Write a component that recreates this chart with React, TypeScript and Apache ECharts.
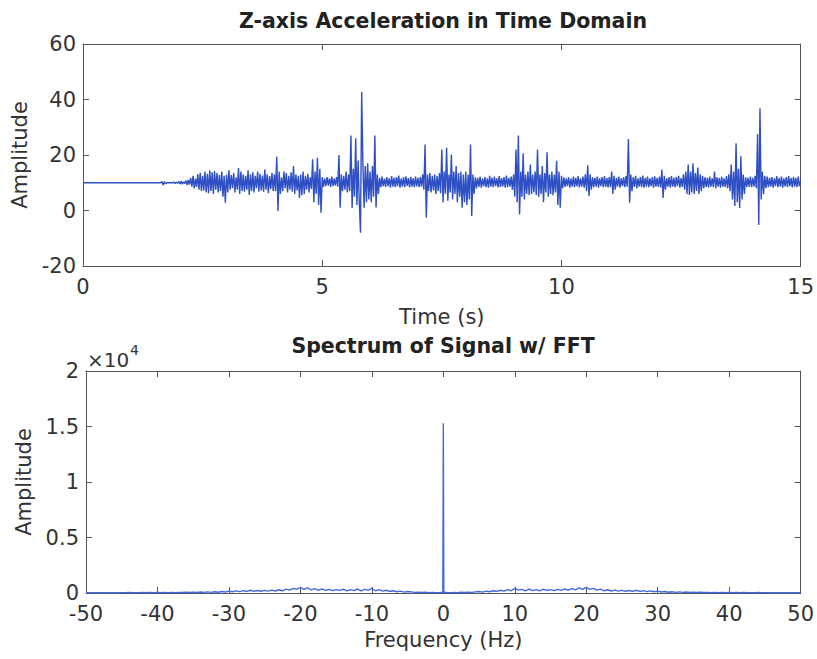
import { useEffect, useRef } from "react";
import * as echarts from "echarts";

// ---------- data ----------
const SAMPLE_DT = 0.025; // seconds between samples of the time signal

const zAccel0to5 = [
  // 0 - 1 s
  10, 10, 10, 10, 10, 10, 10, 10, 10, 10, 10, 10, 10, 10, 10, 10, 10, 10, 10, 10,
  10, 10, 10, 10, 10, 10, 10, 10, 10, 10, 10, 10, 10, 10, 10, 10, 10, 10, 10, 10,
  // 1 - 2 s
  10, 10, 10, 10, 10, 10, 10, 10, 10, 10, 10, 10, 10, 10, 10, 10, 10, 10, 10, 10,
  10, 10, 10, 10, 10, 10, 10.5, 9.2, 10.4, 9.6, 10, 10, 10, 10, 10.1, 9.9, 10.3, 9.7, 10.2, 9.8,
  // 2 - 3 s
  10.4, 9.6, 10.6, 9.5, 10.3, 9.7, 10.8, 9.2, 11, 9.3, 11.8, 8.6, 12.5, 8, 11.5, 8.5, 13, 7.5, 13.6, 7,
  12.5, 7.2, 14, 6.5, 13.2, 6.2, 14.5, 7, 13.8, 6, 14.2, 7.5, 13.5, 6.5, 12.8, 7, 14, 5, 12.5, 2.8,
  // 3 - 4 s
  13, 6.5, 14.5, 7.5, 12.8, 8, 13.5, 6.5, 12, 7.5, 15.3, 6, 14, 7, 13, 6.8, 12.5, 7.5, 14.5, 5.6,
  13, 7, 13.8, 6.5, 12.5, 8, 14, 6.8, 13.2, 7.2, 12.6, 6.8, 14.8, 7.5, 13, 6.2, 12.4, 7.8, 13.6, 7,
  // 4 - 5 s
  13, 7, 19.4, -0.2, 14, 6, 12, 7, 14, 8, 13.5, 6.5, 12.5, 7.5, 13.8, 6.8, 16, 6, 13, 7.2,
  12.5, 4.5, 13, 5.5, 14, 6, 12.5, 7.5, 13.2, 6.5, 12, 7.8, 18.5, 3, 14, 6, 19, 2, 15, -0.8,
];
const zAccel5to10 = [
  // 5 - 6 s
  12, 8.5, 11.5, 8.8, 12, 9, 11.6, 8.5, 12.2, 8.8, 11.5, 9, 12, 8.6, 20, 1, 13, 7, 12.5, 7.5,
  14, 6.5, 13, 7, 27, 0.9, 15, 5, 26, 2, 18, 3, -8, 42.8, 17, 1, 16, 3, 17, 4,
  // 6 - 7 s
  14, 3, 16, 5, 27, 1.1, 13, 6, 11.8, 8.4, 12.2, 8.8, 11.5, 8.5, 12, 8.8, 11.6, 8.2, 12.4, 8.6,
  11.8, 8.4, 12, 8.8, 12.6, 8.2, 11.5, 8.6, 12, 8.4, 12.3, 8.9, 11.7, 8.3, 12.1, 8.6, 11.6, 8.4, 12.2, 8.7,
  // 7 - 8 s
  11.8, 8.4, 12, 8.6, 13, 7.5, 23.8, -2.6, 13, 7, 13.5, 6.5, 12.5, 7.2, 13, 6, 12.5, 7, 13.5, 6.2,
  22, 3, 14, 6, 22.6, 3.5, 13, 6.5, 20.2, 4, 14, 6, 16, 3, 13.5, 5, 14, 1, 13, 3,
  // 8 - 9 s
  14, 2, 13, 4, 23.8, -2, 13, 6, 12, 8, 11.8, 8.5, 12.2, 8.2, 11.5, 8.8, 12, 8.4, 11.6, 8.2,
  12.5, 8.6, 11.8, 8.4, 12.2, 8.8, 11.6, 8.3, 12.4, 8.5, 11.7, 8.7, 12, 8.2, 12.6, 8.4, 11.8, 8.6, 12.2, 7.5,
  // 9 - 10 s
  13, 5, 22, 3, 27, -1.4, 14, 5, 20.6, 4, 13, 6, 14, 5.5, 16.6, 6, 13, 6.5, 14, 5.5,
  22, 5, 13, 6, 16, 3, 13.5, 6.5, 21, 5, 13, 6, 14, 5.5, 13, 6.5, 17.9, 2, 14, 1,
];
const zAccel10to15 = [
  // 10 - 11 s
  12.5, 8, 12, 8.5, 11.6, 8.8, 12, 8.2, 11.5, 8.6, 12.2, 8.4, 11.8, 8.7, 12.4, 8.3, 11.6, 8.6, 12.2, 8.2,
  13, 7, 16.3, 5.2, 13, 7.5, 12, 8.4, 11.8, 8.6, 12.2, 8.2, 11.6, 8.8, 12, 8.4, 12.4, 8.5, 11.7, 8.3,
  // 11 - 12 s
  12, 8.4, 14, 6, 12.5, 7.5, 11.8, 8.6, 12.2, 8.2, 11.6, 8.8, 12, 8.4, 12.4, 8.6, 25.8, 2.8, 13, 7,
  12, 8.5, 12.5, 8, 11.6, 8.6, 12, 8.4, 12.6, 8.2, 11.8, 8.6, 12.2, 8.4, 11.6, 8.8, 12, 8.2, 12.3, 8.6,
  // 12 - 13 s
  11.8, 8.5, 12.2, 8.2, 14.8, 4.5, 12.5, 7.5, 11.6, 8.6, 12, 8.2, 12.4, 8.6, 11.8, 8.4, 12, 8.8, 12.5, 8.2,
  11.7, 8.5, 13, 7.5, 14, 6, 16.6, 5.6, 14, 6.5, 17, 6, 13.5, 7, 15.5, 6, 13, 7, 12.5, 8,
  // 13 - 14 s
  12, 8.5, 11.8, 8.2, 12.2, 8.6, 11.6, 8.4, 14, 8, 12, 8.6, 11.8, 8.2, 12.2, 8.6, 11.6, 8.4, 12.4, 8,
  13, 7, 16.6, 4, 14, 1.6, 24.2, 3, 15, 0.9, 19.5, 4, 13, 6, 12, 8.5, 11.8, 8.6, 12.2, 8.4,
  // 14 - 15 s
  11.8, 8.6, 12.5, 8, 27.6, -5.2, 36.8, 4, 14, 6, 12.5, 8, 12.2, 8.4, 11.8, 8.6, 12, 8.2, 11.6, 8.8,
  12.4, 8.4, 11.8, 8.6, 12.2, 8.2, 11.6, 8.7, 12, 8.4, 12.4, 8.8, 11.7, 8.3, 12.1, 8.6, 11.8, 8.4, 12.2, 8.8,
  10.5,
];

const SPEC_DF = 0.5; // Hz between spectrum points
// magnitude at f = 0.5, 1.0, ... 50 Hz (spectrum of a real signal: same on the negative side)
const spectrumHalf = [
  40, 25, 55, 30, 65, 40, 80, 55, 100,
  140, 80, 170, 110, 200, 140, 250, 170, 300, 200, 420,
  260, 330, 200, 360, 220, 310, 190, 340, 230, 300,
  210, 330, 240, 370, 250, 400, 280, 460, 320, 520,
  330, 420, 260, 350, 200, 290, 180, 260, 170, 240,
  160, 230, 150, 250, 140, 210, 120, 190, 110, 170,
  90, 130, 70, 110, 60, 100, 55, 85, 50, 75,
  45, 65, 40, 55, 35, 60, 30, 50, 35, 55,
  30, 45, 25, 40, 30, 35, 25, 40, 30, 35,
  25, 35, 20, 30, 25, 30, 20, 30, 20, 25,
];
// DC component and its neighbouring bins (bin width 1/15 Hz)
const dcFreqs = [-0.0667, 0, 0.0667];
const dcAmps = [60, 15300, 60];

const timeTicks = { min: 0, max: 15, interval: 5 };
const ampTicks = { min: -20, max: 60, interval: 20 };
const freqTicks = { min: -50, max: 50, interval: 10 };
const specTicks = { min: 0, max: 20000, interval: 5000 };

// ---------- styles ----------
const FONT = "DejaVu Sans";
const AXIS_COLOR = "#555";
const LABEL_COLOR = "#333";
const LINE1 = "#2f4fc4";
const LINE2 = "#4468e0";

function buildTimeData() {
  const vals = [...zAccel0to5, ...zAccel5to10, ...zAccel10to15];
  return vals.map((v, i) => [+(i * SAMPLE_DT).toFixed(4), v]);
}

function buildSpectrumData() {
  const pts: number[][] = [];
  for (let i = spectrumHalf.length - 1; i >= 0; i--) {
    pts.push([-(i + 1) * SPEC_DF, spectrumHalf[i]]);
  }
  dcFreqs.forEach((f, i) => pts.push([f, dcAmps[i]]));
  for (let i = 0; i < spectrumHalf.length; i++) {
    pts.push([(i + 1) * SPEC_DF, spectrumHalf[i]]);
  }
  return pts;
}

function xAxis(gridIndex: number, position: string, t: any, showLabel: boolean, margin: number, name?: string, nameGap?: number) {
  return {
    type: "value",
    gridIndex,
    position,
    min: t.min,
    max: t.max,
    interval: t.interval,
    name: name || "",
    nameLocation: "middle",
    nameGap: nameGap || 0,
    nameTextStyle: { fontFamily: FONT, fontSize: 21, color: LABEL_COLOR },
    axisLine: { show: true, onZero: false, lineStyle: { color: AXIS_COLOR, width: 1 } },
    axisTick: { show: true, inside: true, length: 6, lineStyle: { color: AXIS_COLOR } },
    axisLabel: { show: showLabel, margin, fontFamily: FONT, fontSize: 21, lineHeight: 18, color: LABEL_COLOR },
    splitLine: { show: false },
  };
}

function yAxis(gridIndex: number, position: string, t: any, showLabel: boolean, name?: string, formatter?: any) {
  return {
    type: "value",
    gridIndex,
    position,
    min: t.min,
    max: t.max,
    interval: t.interval,
    name: name || "",
    nameLocation: "middle",
    nameGap: 48,
    nameTextStyle: { fontFamily: FONT, fontSize: 21, color: LABEL_COLOR },
    axisLine: { show: true, onZero: false, lineStyle: { color: AXIS_COLOR, width: 1 } },
    axisTick: { show: true, inside: true, length: 6, lineStyle: { color: AXIS_COLOR } },
    axisLabel: { show: showLabel, margin: 7, fontFamily: FONT, fontSize: 21, lineHeight: 16, color: LABEL_COLOR, formatter },
    splitLine: { show: false },
  };
}

export default function App() {
  const ref = useRef<HTMLDivElement>(null);
  useEffect(() => {
    if (!ref.current) return;
    const chart = echarts.init(ref.current, null, { renderer: "svg" });
    const option = {
      animation: false,
      backgroundColor: "#ffffff",
      grid: [
        { left: 83, right: 13, top: 44, height: 222, containLabel: false },
        { left: 86, right: 13, top: 371, height: 222, containLabel: false },
      ],
      xAxis: [
        xAxis(0, "bottom", timeTicks, true, 12, "Time (s)", 40),
        xAxis(0, "top", timeTicks, false, 10),
        xAxis(1, "bottom", freqTicks, true, 12, "Frequency (Hz)", 36),
        xAxis(1, "top", freqTicks, false, 10),
      ],
      yAxis: [
        yAxis(0, "left", ampTicks, true, "Amplitude"),
        yAxis(0, "right", ampTicks, false),
        yAxis(1, "left", specTicks, true, "Amplitude", (v: number) => String(v / 10000)),
        yAxis(1, "right", specTicks, false),
      ],
      graphic: [
        {
          type: "text",
          x: 443,
          y: 21,
          style: { text: "Z-axis Acceleration in Time Domain", fontFamily: FONT, fontSize: 20.5, fontWeight: "bold", fill: "#222", align: "center", verticalAlign: "middle" },
        },
        {
          type: "text",
          x: 443,
          y: 346,
          style: { text: "Spectrum of Signal w/ FFT", fontFamily: FONT, fontSize: 20.5, fontWeight: "bold", fill: "#222", align: "center", verticalAlign: "middle" },
        },
        {
          type: "text",
          x: 87,
          y: 360,
          style: { text: "×10", fontFamily: FONT, fontSize: 20, fill: LABEL_COLOR, align: "left", verticalAlign: "middle" },
        },
        {
          type: "text",
          x: 130,
          y: 350,
          style: { text: "4", fontFamily: FONT, fontSize: 14, fill: LABEL_COLOR, align: "left", verticalAlign: "middle" },
        },
      ],
      series: [
        {
          type: "line",
          xAxisIndex: 0,
          yAxisIndex: 0,
          data: buildTimeData(),
          showSymbol: false,
          symbol: "none",
          lineStyle: { color: LINE1, width: 1.4 },
          itemStyle: { color: LINE1 },
        },
        {
          type: "line",
          xAxisIndex: 2,
          yAxisIndex: 2,
          data: buildSpectrumData(),
          showSymbol: false,
          symbol: "none",
          lineStyle: { color: LINE2, width: 1.4 },
          itemStyle: { color: LINE2 },
        },
      ],
    };
    chart.setOption(option as any);
    return () => chart.dispose();
  }, []);
  return (
    <div
      ref={ref}
      style={{ position: "fixed", left: 0, top: 0, width: 817, height: 659, background: "#fff" }}
    />
  );
}
